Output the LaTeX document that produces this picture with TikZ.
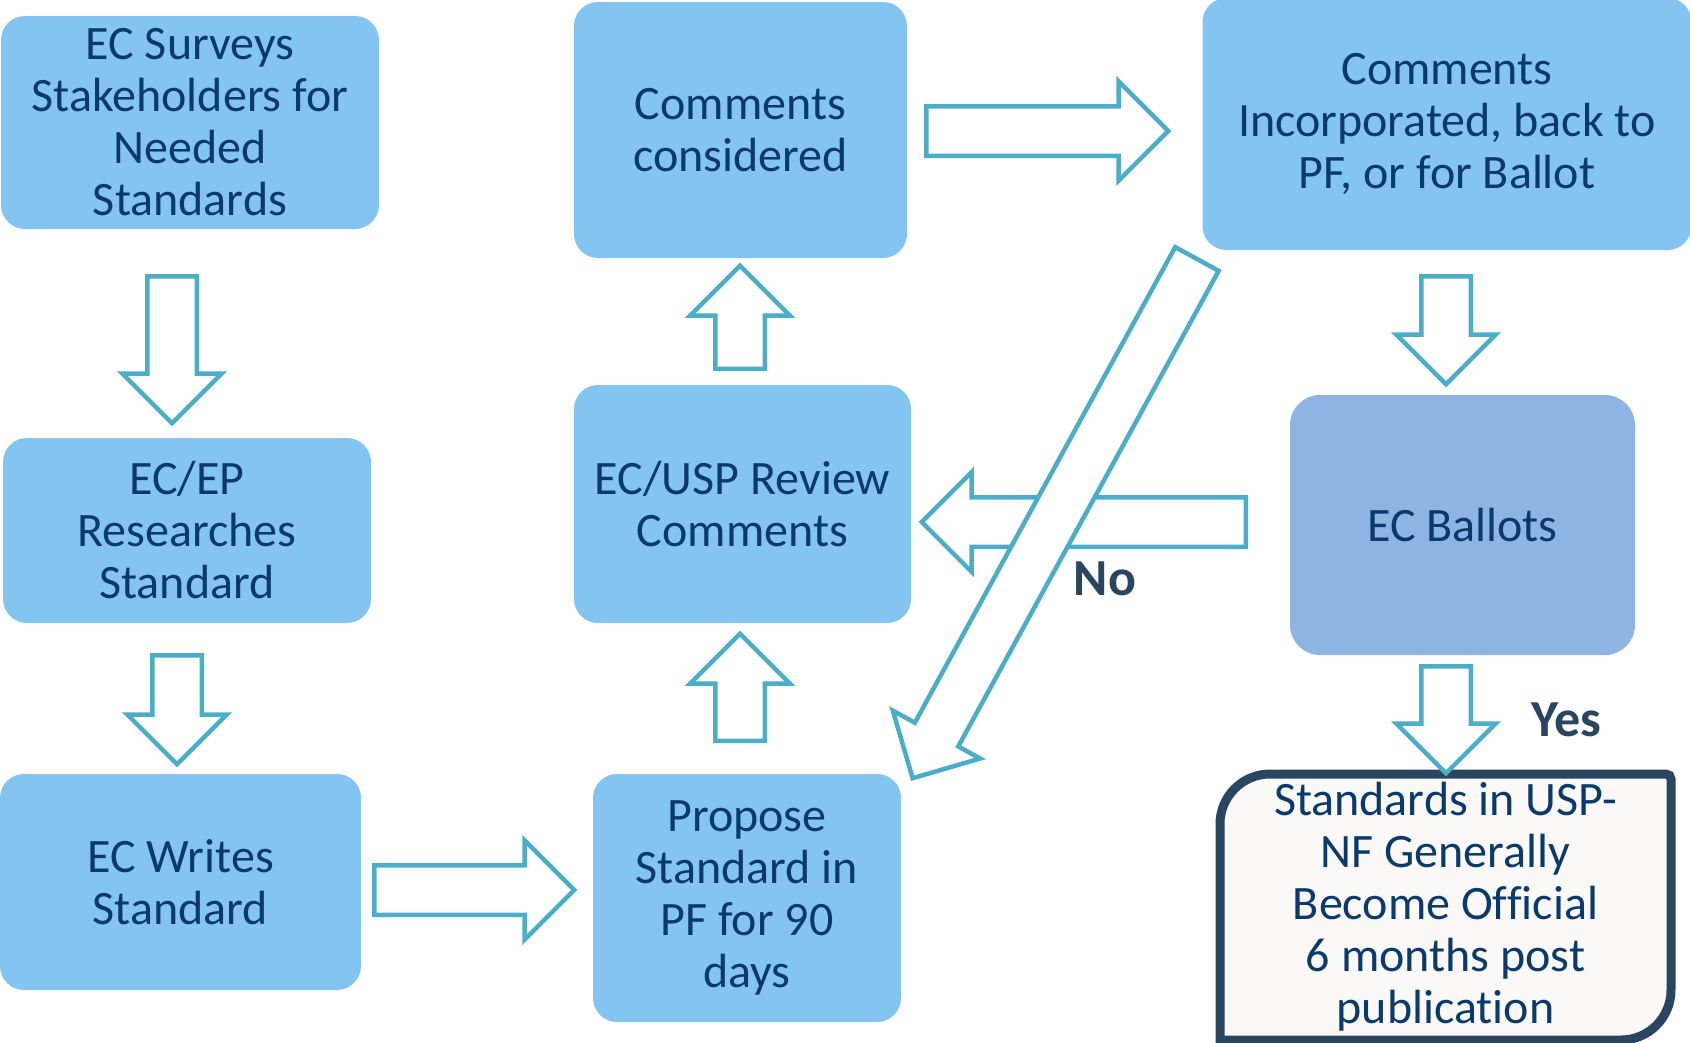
\documentclass[tikz,border=0pt]{standalone}
\usepackage{fontspec}
\setmainfont[Ligatures={NoCommon}]{Carlito}
\usetikzlibrary{shapes.arrows}
\definecolor{boxblue}{HTML}{83C4F1}
\definecolor{ballotblue}{HTML}{8EB4E3}
\definecolor{textnavy}{HTML}{0A3A6C}
\definecolor{arrowteal}{HTML}{4BADC7}
\definecolor{answernavy}{HTML}{29455F}
\definecolor{paperwhite}{HTML}{FAF9F7}
\tikzset{
  stepbox/.style={rectangle, rounded corners=24pt, fill=boxblue, text=textnavy,
    align=center, inner sep=0pt, font=\fontsize{48}{52}\selectfont},
  blockarrow/.style={single arrow, draw=arrowteal, line width=4.5pt, fill=white,
    inner sep=22.5pt, single arrow head extend=25pt, single arrow tip angle=90,
    minimum width=95pt, anchor=tail},
  answer/.style={text=answernavy, font=\fontsize{52}{56}\selectfont\bfseries},
}
\begin{document}
\begin{tikzpicture}[x=1pt, y=-1pt]
    \useasboundingbox (0,0) rectangle (1690,1042);
    \clip (0,0) rectangle (1690,1042);
    % boxes
    \node[stepbox, minimum width=378pt, minimum height=213pt] (surveys) at (190,122.5)
        {EC Surveys\\Stakeholders for\\Needed\\Standards};
    \node[stepbox, minimum width=368pt, minimum height=185pt] (research) at (187,530.5)
        {EC/EP\\Researches\\Standard};
    \node[stepbox, minimum width=361pt, minimum height=216pt] (writes) at (180.5,882)
        {EC Writes\\Standard};
    \node[stepbox, minimum width=333pt, minimum height=256pt] (considered) at (740.5,130)
        {Comments\\considered};
    \node[stepbox, minimum width=337pt, minimum height=238pt] (review) at (742.5,504)
        {EC/USP Review\\Comments};
    \node[stepbox, minimum width=308pt, minimum height=248pt] (propose) at (747,898)
        {Propose\\Standard in\\PF for 90\\days};
    \node[stepbox, minimum width=489pt, minimum height=252pt] (incorporated) at (1447,124)
        {Comments\\Incorporated, back to\\PF, or for Ballot};
    \node[stepbox, fill=ballotblue, rounded corners=30pt, minimum width=345pt,
        minimum height=260pt] (ballots) at (1462.5,525) {EC Ballots};
    % final box, two round corners
    \draw[line width=9pt, draw=answernavy, fill=paperwhite]
        (1220,1040) -- (1220,824) arc[start angle=180, end angle=270, radius=50]
        -- (1666,774) arc[start angle=270, end angle=360, radius=5]
        -- (1671,990) arc[start angle=0, end angle=90, radius=50] -- cycle;
    \node[stepbox, fill=none, minimum width=451pt, minimum height=266pt] (official) at (1445.5,907)
        {Standards in USP-\\NF Generally\\Become Official\\6 months post\\publication};
    % block arrows
    \node[blockarrow, rotate=-90, minimum height=147pt] (surveystoresearch) at (172,274) {};
    \node[blockarrow, rotate=-90, minimum height=109pt] (researchtowrites) at (177,653) {};
    \node[blockarrow, minimum height=200pt] (writestopropose) at (372,890) {};
    \node[blockarrow, rotate=90, minimum height=107pt] (proposetoreview) at (740,743) {};
    \node[blockarrow, rotate=90, minimum height=103pt] (reviewtoconsidered) at (740,371) {};
    \node[blockarrow, minimum height=242pt] (consideredtoincorporated) at (924,131) {};
    \node[blockarrow, rotate=-90, minimum height=108pt] (incorporatedtoballots) at (1446,274) {};
    \node[blockarrow, rotate=-90, minimum height=107pt] (ballotstoofficial) at (1446,664) {};
    \node[blockarrow, rotate=180, minimum height=324pt] (ballotstoreview) at (1248,522) {};
    \node[blockarrow, rotate=241.3, minimum height=592pt] (incorporatedtopropose) at (1198,257) {};
    % answers
    \node[answer] (no) at (1105,579) {No};
    \node[answer] (yes) at (1566,720) {Yes};
\end{tikzpicture}
\end{document}
